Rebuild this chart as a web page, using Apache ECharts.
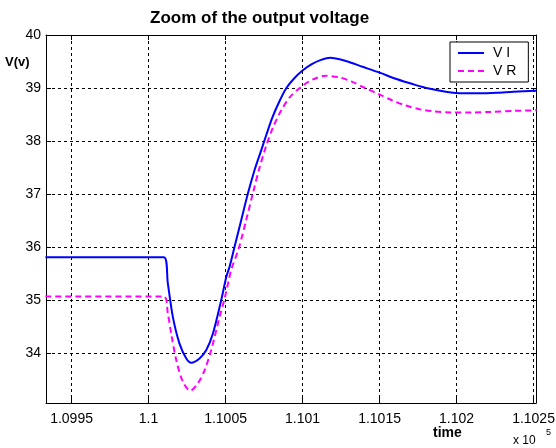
<!DOCTYPE html>
<html>
<head>
<meta charset="utf-8">
<script src="https://cdn.jsdelivr.net/npm/echarts@6/dist/echarts.min.js"></script>
<style>
  html, body { margin: 0; padding: 0; background: #ffffff; }
  #chart { width: 556px; height: 448px; }
</style>
</head>
<body>
<div id="chart"></div>
<script>
// Time axis values are in units of 1e5 s (see the "x 10^5" multiplier).
const timeVI = [1.09933, 1.1001, 1.100125, 1.100158, 1.100201, 1.100245, 1.100277, 1.100331,
  1.100375, 1.100418, 1.100472, 1.100505, 1.100526, 1.100558, 1.100602, 1.100645, 1.100688,
  1.100732, 1.100764, 1.100805, 1.10085, 1.100895, 1.100945, 1.101, 1.10106, 1.10112,
  1.10118, 1.10128, 1.10139, 1.1015, 1.10161, 1.10172, 1.10182, 1.10193, 1.10204,
  1.10215, 1.10226, 1.10237, 1.10252];
const voltVI = [35.81, 35.81, 35.32, 34.68, 34.18, 33.90, 33.82, 33.90,
  34.06, 34.37, 35.00, 35.44, 35.63, 36.00, 36.51, 37.01, 37.45,
  37.83, 38.11, 38.45, 38.75, 39.00, 39.18, 39.33, 39.45, 39.53,
  39.57, 39.51, 39.40, 39.29, 39.17, 39.07, 38.99, 38.93, 38.90,
  38.90, 38.91, 38.93, 38.95];

const timeVR = [1.09933, 1.100097, 1.100125, 1.100147, 1.10018, 1.100223, 1.100271, 1.10032,
  1.100364, 1.100407, 1.100461, 1.100494, 1.100537, 1.100585, 1.100634, 1.100677, 1.100721,
  1.100765, 1.10081, 1.10086, 1.100915, 1.10099, 1.101065, 1.10115, 1.10124, 1.10132,
  1.1014, 1.10149, 1.10158, 1.10167, 1.10176, 1.10185, 1.10196, 1.1021, 1.10222,
  1.10238, 1.10252];
const voltVR = [35.07, 35.07, 34.75, 34.37, 33.87, 33.46, 33.29, 33.43,
  33.68, 34.06, 34.68, 35.03, 35.57, 35.97, 36.51, 37.01, 37.50,
  37.92, 38.27, 38.57, 38.82, 39.02, 39.16, 39.23, 39.20, 39.12,
  39.01, 38.89, 38.77, 38.67, 38.60, 38.56, 38.54, 38.54, 38.55,
  38.57, 38.58];

const xTicks = [1.0995, 1.1, 1.1005, 1.101, 1.1015, 1.102, 1.1025];
const yTicks = [34, 35, 36, 37, 38, 39, 40];

const seriesNames = ['V I', 'V R'];

const FONT = "'Liberation Sans', Arial, sans-serif";

const pairs = (xs, ys) => xs.map((x, i) => [x, ys[i]]);

const chart = echarts.init(document.getElementById('chart'), null, { renderer: 'canvas' });

const frameAxis = {
  axisLine: { show: true, onZero: false, lineStyle: { color: '#000', width: 1 } },
  axisTick: { show: true, inside: true, length: 5, lineStyle: { color: '#000' } }
};

chart.setOption({
  backgroundColor: '#ffffff',
  animation: false,
  title: {
    text: 'Zoom of the output voltage',
    left: 150,
    top: 10,
    padding: 0,
    textStyle: { fontFamily: FONT, fontSize: 17, fontWeight: 'bold', color: '#000' }
  },
  legend: {
    data: seriesNames,
    orient: 'vertical',
    left: 450,
    top: 42,
    padding: [4, 12, 4, 7],
    itemGap: 4,
    itemWidth: 26,
    itemHeight: 14,
    borderColor: '#000',
    borderWidth: 1,
    borderRadius: 0,
    backgroundColor: '#ffffff',
    itemStyle: { opacity: 0 },
    textStyle: { fontFamily: FONT, fontSize: 14, color: '#000', padding: [0, 0, 0, 4] }
  },
  grid: {
    left: 46, right: 20, top: 35, bottom: 45,
    containLabel: false, outerBoundsMode: 'none'
  },
  xAxis: [
    Object.assign({}, frameAxis, {
      type: 'value',
      position: 'bottom',
      min: 1.099334,
      max: 1.102516,
      axisTick: Object.assign({}, frameAxis.axisTick, { customValues: xTicks }),
      axisLabel: {
        customValues: xTicks,
        margin: 9,
        fontFamily: FONT, fontSize: 14, color: '#000',
        formatter: v => String(+v.toFixed(4))
      },
      splitLine: { show: true, lineStyle: { color: '#000', type: [3, 3], width: 1 } }
    }),
    Object.assign({}, frameAxis, {
      type: 'value',
      position: 'top',
      min: 1.099334,
      max: 1.102516,
      axisTick: Object.assign({}, frameAxis.axisTick, { customValues: xTicks }),
      axisLabel: { show: false, customValues: xTicks },
      splitLine: { show: false }
    })
  ],
  yAxis: [
    Object.assign({}, frameAxis, {
      type: 'value',
      position: 'left',
      min: 33.06,
      max: 40,
      axisTick: Object.assign({}, frameAxis.axisTick, { customValues: yTicks }),
      axisLabel: {
        customValues: yTicks,
        margin: 5,
        fontFamily: FONT, fontSize: 14, color: '#000'
      },
      splitLine: { show: true, lineStyle: { color: '#000', type: [3, 3], width: 1 } }
    }),
    Object.assign({}, frameAxis, {
      type: 'value',
      position: 'right',
      min: 33.06,
      max: 40,
      axisTick: Object.assign({}, frameAxis.axisTick, { customValues: yTicks }),
      axisLabel: { show: false, customValues: yTicks },
      splitLine: { show: false }
    })
  ],
  graphic: [
    { type: 'text', left: 5, top: 56,
      style: { text: 'V(v)', font: 'bold 13px ' + FONT, fill: '#000' } },
    { type: 'text', left: 433, top: 426,
      style: { text: 'time', font: 'bold 14px ' + FONT, fill: '#000' } },
    { type: 'text', left: 513, top: 435,
      style: { text: 'x 10', font: '12px ' + FONT, fill: '#000' } },
    { type: 'text', left: 546, top: 428,
      style: { text: '5', font: '9px ' + FONT, fill: '#000' } }
  ],
  series: [
    {
      name: seriesNames[0],
      type: 'line',
      data: pairs(timeVI, voltVI),
      showSymbol: false,
      symbol: 'none',
      smooth: 0.3,
      lineStyle: { color: '#0000ff', width: 2 },
      itemStyle: { color: '#0000ff' }
    },
    {
      name: seriesNames[1],
      type: 'line',
      data: pairs(timeVR, voltVR),
      showSymbol: false,
      symbol: 'none',
      smooth: 0.3,
      lineStyle: { color: '#ff00ff', width: 2, type: [6, 4] },
      itemStyle: { color: '#ff00ff' }
    }
  ]
});
</script>
</body>
</html>
